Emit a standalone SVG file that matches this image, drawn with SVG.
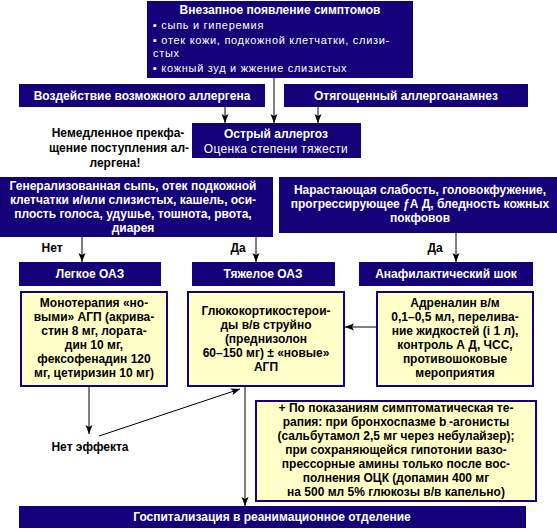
<svg xmlns="http://www.w3.org/2000/svg" width="557" height="529" viewBox="0 0 557 529">
<defs>
<marker id="ah" markerUnits="userSpaceOnUse" markerWidth="10" markerHeight="8" refX="9" refY="3.5" orient="auto">
<path d="M0,0 L9,3.5 L0,7 L2,3.5 z" fill="#000"/>
</marker>
<style>
.nb{fill:#140078}
.yb{fill:#ffffc8;stroke:#140078;stroke-width:2}
text{font-family:"Liberation Sans",Arial,sans-serif;font-size:12px}
.tw{fill:#fff;font-weight:bold;text-anchor:middle}
.tr{fill:#fff;font-size:11px;letter-spacing:0.7px}
.trc{fill:#fff;text-anchor:middle;letter-spacing:0.3px}
.tb{fill:#000;font-weight:bold;text-anchor:middle}
.ln{stroke:#000;stroke-width:1;fill:none}
</style>
</defs>
<rect width="557" height="529" fill="#fff"/>

<g id="connectors">
<line class="ln" x1="274" y1="78" x2="274" y2="123" marker-end="url(#ah)"/>
<line class="ln" x1="225" y1="107" x2="225" y2="123" marker-end="url(#ah)"/>
<line class="ln" x1="318" y1="107" x2="318" y2="123" marker-end="url(#ah)"/>
<line class="ln" x1="82" y1="237" x2="82" y2="262" marker-end="url(#ah)"/>
<line class="ln" x1="256" y1="237" x2="256" y2="262" marker-end="url(#ah)"/>
<line class="ln" x1="456" y1="233" x2="456" y2="262" marker-end="url(#ah)"/>
<line class="ln" x1="376" y1="327" x2="345" y2="327" marker-end="url(#ah)"/>
<line class="ln" x1="89" y1="387" x2="89" y2="434" marker-end="url(#ah)"/>
<line class="ln" x1="99" y1="436" x2="240" y2="389" marker-end="url(#ah)"/>
<line class="ln" x1="245" y1="387" x2="245" y2="506" marker-end="url(#ah)"/>
</g>

<g id="n-symptoms">
<rect class="nb" x="147" y="1" width="266" height="77"/>
<text class="tw" x="280" y="14">Внезапное появление симптомов</text>
<text class="tr" x="153" y="29">▪ сыпь и гиперемия</text>
<text class="tr" x="153" y="44">▪ отек кожи, подкожной клетчатки, слизи-</text>
<text class="tr" x="153" y="57">стых</text>
<text class="tr" x="153" y="72">▪ кожный зуд и жжение слизистых</text>
</g>

<g id="n-allergen">
<rect class="nb" x="19" y="84" width="246" height="23"/>
<text class="tw" x="142" y="100">Воздействие возможного аллергена</text>
</g>

<g id="n-anamnesis">
<rect class="nb" x="284" y="84" width="244" height="23"/>
<text class="tw" x="406" y="100">Отягощенный аллергоанамнез</text>
</g>

<g id="n-stop">
<text class="tb" x="118" y="137">Немедленное прекфа-</text>
<text class="tb" x="119" y="152">щение поступления ал-</text>
<text class="tb" x="115" y="167">лергена!</text>
</g>

<g id="n-acute">
<rect class="nb" x="192" y="123" width="169" height="35"/>
<text class="tw" x="276" y="138">Острый аллергоз</text>
<text class="trc" x="276" y="153">Оценка степени тяжести</text>
</g>

<g id="n-general">
<rect class="nb" x="0" y="177" width="273" height="60"/>
<text class="tw" x="133" y="190">Генерализованная сыпь, отек подкожной</text>
<text class="tw" x="133" y="204">клетчатки и/или слизистых, кашель, оси-</text>
<text class="tw" x="133" y="218">плость голоса, удушье, тошнота, рвота,</text>
<text class="tw" x="133" y="232">диарея</text>
</g>

<g id="n-weakness">
<rect class="nb" x="279" y="177" width="278" height="56"/>
<text class="tw" x="420" y="194">Нарастающая слабость, головокфужение,</text>
<text class="tw" x="420" y="208">прогрессирующее ƒА Д, бледность кожных</text>
<text class="tw" x="420" y="222">покфовов</text>
</g>

<g id="labels">
<text class="tb" x="52" y="252">Нет</text>
<text class="tb" x="238" y="252">Да</text>
<text class="tb" x="435" y="252">Да</text>
<text class="tb" x="90" y="451">Нет эффекта</text>
</g>

<g id="n-mild">
<rect class="nb" x="19" y="262" width="142" height="24"/>
<text class="tw" x="90" y="278">Легкое ОАЗ</text>
</g>

<g id="n-severe">
<rect class="nb" x="192" y="262" width="143" height="24"/>
<text class="tw" x="263" y="278">Тяжелое ОАЗ</text>
</g>

<g id="n-shock">
<rect class="nb" x="359" y="262" width="174" height="24"/>
<text class="tw" x="446" y="278">Анафилактический шок</text>
</g>

<g id="n-mono">
<rect class="yb" x="21" y="292" width="146" height="94"/>
<text class="tb" x="94" y="307">Монотерапия «но-</text>
<text class="tb" x="94" y="321">выми» АГП (акрива-</text>
<text class="tb" x="94" y="335">стин 8 мг, лората-</text>
<text class="tb" x="94" y="349">дин 10 мг,</text>
<text class="tb" x="94" y="363">фексофенадин 120</text>
<text class="tb" x="94" y="377">мг, цетиризин 10 мг)</text>
</g>

<g id="n-gcs">
<rect class="yb" x="188" y="292" width="156" height="94"/>
<text class="tb" x="266" y="315">Глюкокортикостерои-</text>
<text class="tb" x="266" y="329">ды в/в струйно</text>
<text class="tb" x="266" y="343">(преднизолон</text>
<text class="tb" x="266" y="357">60–150 мг) ± «новые»</text>
<text class="tb" x="266" y="371">АГП</text>
</g>

<g id="n-adrenaline">
<rect class="yb" x="377" y="292" width="156" height="94"/>
<text class="tb" x="455" y="307">Адреналин в/м</text>
<text class="tb" x="455" y="321">0,1–0,5 мл, перелива-</text>
<text class="tb" x="455" y="335">ние жидкостей (i 1 л),</text>
<text class="tb" x="455" y="349">контроль А Д, ЧСС,</text>
<text class="tb" x="455" y="363">противошоковые</text>
<text class="tb" x="455" y="377">мероприятия</text>
</g>

<g id="n-symptomatic">
<rect class="yb" x="256" y="401" width="280" height="100"/>
<text class="tb" x="396" y="412">+ По показаниям симптоматическая те-</text>
<text class="tb" x="396" y="426">рапия: при бронхоспазме b<tspan font-size="7" font-weight="normal" fill="#999">₂</tspan>-агонисты</text>
<text class="tb" x="396" y="440">(сальбутамол 2,5 мг через небулайзер);</text>
<text class="tb" x="396" y="454">при сохраняющейся гипотонии вазо-</text>
<text class="tb" x="396" y="468">прессорные амины  только после вос-</text>
<text class="tb" x="396" y="482">полнения ОЦК  (допамин 400 мг</text>
<text class="tb" x="396" y="496">на 500 мл 5% глюкозы в/в капельно)</text>
</g>

<g id="n-hospital">
<rect class="nb" x="19" y="506" width="507" height="22"/>
<text class="tw" x="272" y="521">Госпитализация в реанимационное отделение</text>
</g>
</svg>
